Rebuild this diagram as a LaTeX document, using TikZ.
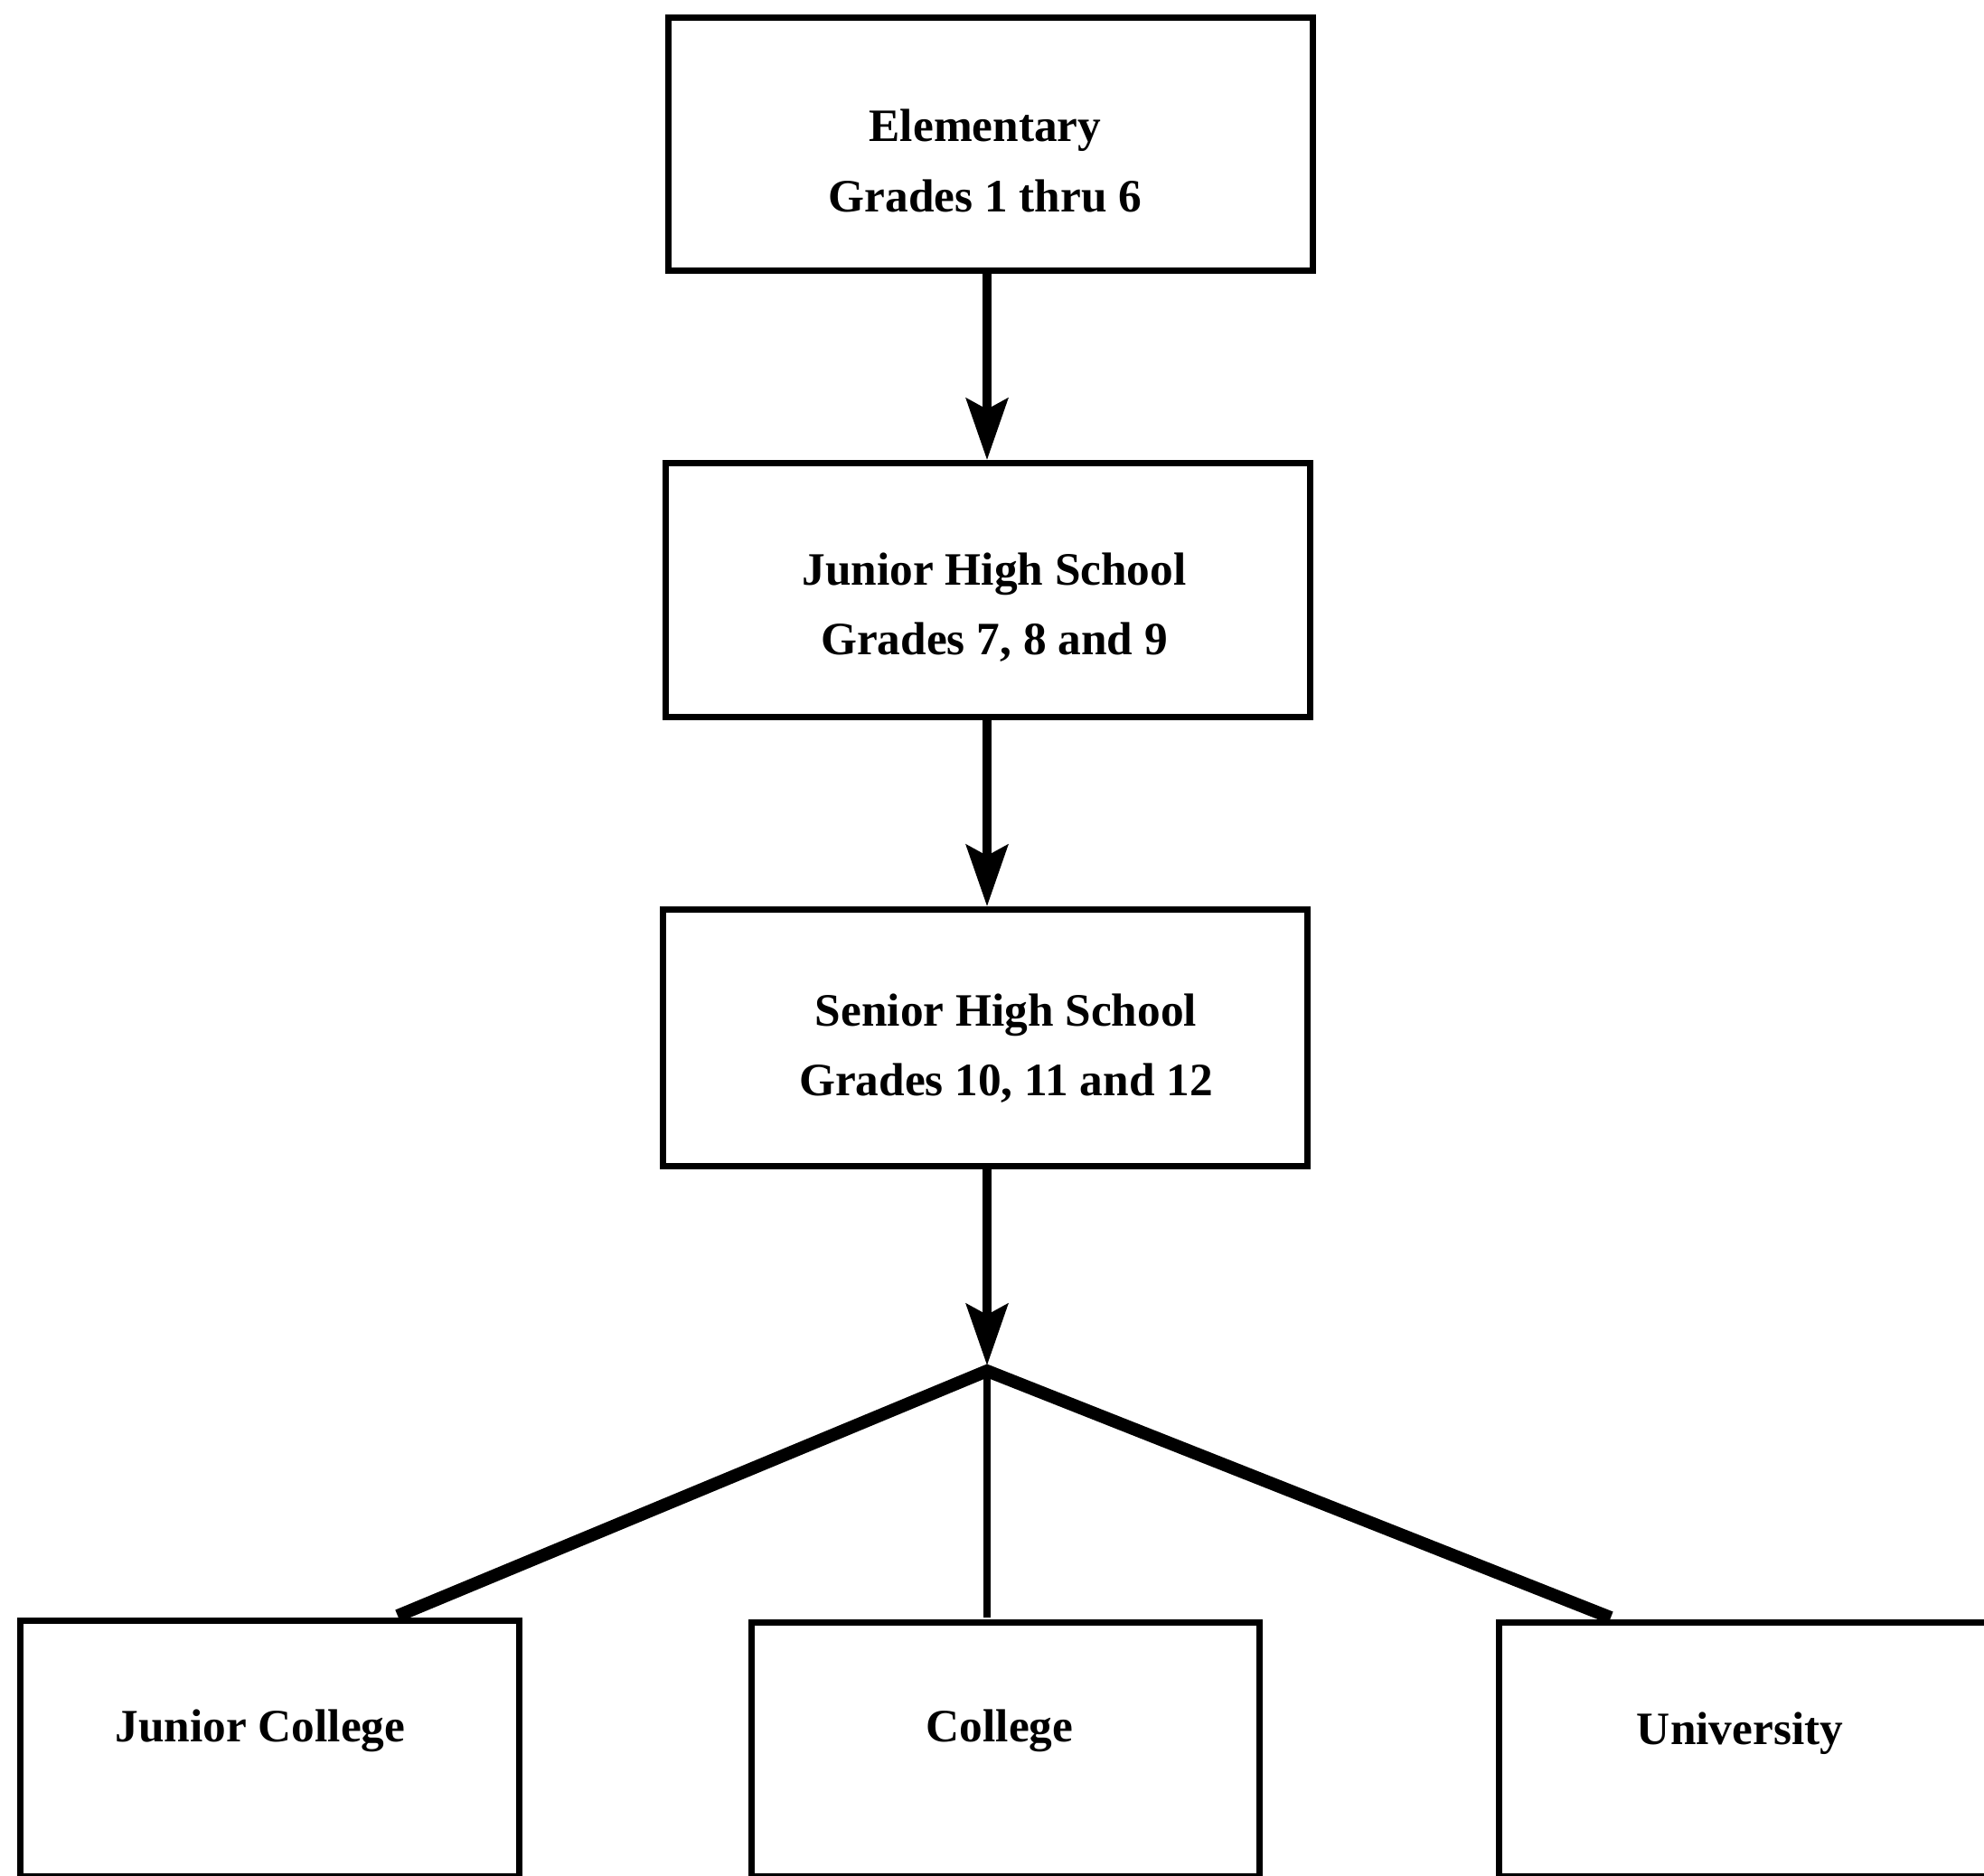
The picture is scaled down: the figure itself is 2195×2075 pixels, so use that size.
\documentclass[tikz,border=0pt]{standalone}
\usepackage{fontspec}
\setmainfont{Liberation Serif}
\usetikzlibrary{arrows.meta}
\begin{document}
\begin{tikzpicture}[x=0.01cm,y=-0.01cm,
  boxline/.style={line width=2pt,draw=black},
  lbl/.style={font=\bfseries\fontsize{14.6}{22}\selectfont,align=center,inner sep=0pt},
  flow/.style={line width=2.9pt,-{Stealth[length=0.68cm,width=0.46cm,inset=0.12cm]}},
  branch/.style={line width=4pt},
  stem/.style={line width=2.4pt}]
\clip (0,0) rectangle (2195,2075);
\fill[white] (0,0) rectangle (2195,2075);
% boxes
\node[boxline,rectangle,minimum width=7.13cm,minimum height=2.80cm,anchor=north west] (b1) at (736,16) {};
\node[boxline,rectangle,minimum width=7.13cm,minimum height=2.81cm,anchor=north west] (b2) at (733,509) {};
\node[boxline,rectangle,minimum width=7.13cm,minimum height=2.84cm,anchor=north west] (b3) at (730,1003) {};
\node[boxline,rectangle,minimum width=5.52cm,minimum height=2.83cm,anchor=north west] (jc) at (19,1790) {};
\node[boxline,rectangle,minimum width=5.62cm,minimum height=2.81cm,anchor=north west] (col) at (828,1792) {};
\node[boxline,rectangle,minimum width=5.70cm,minimum height=2.81cm,anchor=north west] (uni) at (1655,1792) {};
% labels
\node[lbl] (t1) at (1090,178) {Elementary\\Grades 1 thru 6};
\node[lbl] (t2) at (1100,672) {Junior High School\\Grades 7, 8 and 9};
\node[lbl] (t3) at (1113,1160) {Senior High School\\Grades 10, 11 and 12};
\node[lbl] (t4) at (288,1915) {Junior College};
\node[lbl] (t5) at (1106,1915) {College};
\node[lbl] (t6) at (1925,1918) {University};
% connectors
\coordinate (split) at (1092,1517);
\coordinate (jctop) at (440,1788);
\coordinate (coltop) at (1092,1790);
\coordinate (unitop) at (1782,1790);
\draw[flow] (b1.south -| split) -- (b2.north -| split);
\draw[flow] (b2.south -| split) -- (b3.north -| split);
\draw[flow] (b3.south -| split) -- ([yshift=0.06cm]split);
\draw[branch,line join=miter] (jctop) -- (split) -- (unitop);
\draw[stem] (split) -- (coltop);
\end{tikzpicture}
\end{document}
